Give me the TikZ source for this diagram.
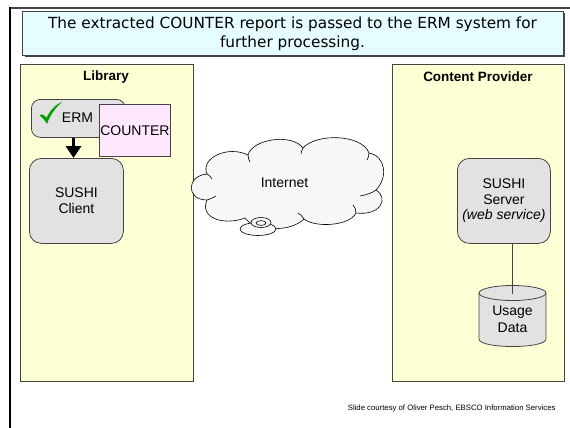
\documentclass[tikz,border=0pt]{standalone}
\usepackage{fontspec}
\setmainfont{Liberation Sans}
\newfontfamily\verdanafont{DejaVu Sans}
\usetikzlibrary{arrows.meta}
\definecolor{titlefill}{HTML}{E6FDFF}
\definecolor{yellowfill}{HTML}{FFFFD6}
\definecolor{grayfill}{HTML}{E2E2E2}
\definecolor{pinkfill}{HTML}{FFE8FF}
\definecolor{cloudfill}{HTML}{F7F7F7}
\definecolor{edgegray}{HTML}{444444}
\definecolor{checkgreen}{HTML}{00A000}
\tikzset{
  panel/.style={draw=edgegray, line width=0.8pt, fill=yellowfill, anchor=north west, inner sep=0pt},
  roundbox/.style={draw=edgegray, line width=0.8pt, fill=grayfill, rounded corners=12pt, anchor=north west, align=center, font=\fontsize{14}{15.5}\selectfont, inner sep=0pt},
  panetitle/.style={font=\bfseries\fontsize{13.5}{15}\selectfont},
  bodytext/.style={font=\fontsize{14}{16}\selectfont},
  cloudline/.style={black, line width=0.6pt},
}
\begin{document}
\begin{tikzpicture}[x=1pt,y=-1pt]
\useasboundingbox (0,0) rectangle (570,428);
% frame lines
\draw[edgegray, line width=1.6pt] (10,8) -- (570,8);
\draw[black, line width=2.2pt] (10,7) -- (10,428);
% title
\fill[edgegray] (24.5,13.5) rectangle (565,57.5);
\node[draw=edgegray, line width=0.8pt, fill=titlefill, anchor=north west, minimum width=541pt, minimum height=44pt, inner sep=0pt] (title) at (22,11) {};
\node[align=center, font=\verdanafont\fontsize{15.3}{18.8}\selectfont] (titletext) at (292.5,34) {The extracted COUNTER report is passed to the ERM system for\\further processing.};
% panels
\node[panel, minimum width=173pt, minimum height=317pt] (lib) at (20,64) {};
\node[panetitle] (libtitle) at (106,77) {Library};
\node[panel, minimum width=172pt, minimum height=317pt] (cp) at (392,64) {};
\node[panetitle] (cptitle) at (478,77) {Content Provider};
% ERM
\node[roundbox, rounded corners=9pt, minimum width=94pt, minimum height=38pt] (erm) at (31,99) {};
\node[bodytext] (ermtext) at (77.5,117.5) {ERM};
\fill[checkgreen] (39.5,115) .. controls (43,113.5) and (45,115.5) .. (46.5,118)
  .. controls (50,110) and (56,104.5) .. (62.5,101.5)
  .. controls (56,107) and (50,115) .. (47,124)
  .. controls (45,120.5) and (42.5,117.5) .. (39.5,115) -- cycle;
\node[draw=edgegray, line width=0.8pt, fill=pinkfill, anchor=north west, minimum width=71pt, minimum height=52pt, inner sep=0pt, bodytext] (counter) at (99,104) {COUNTER};
% SUSHI client
\node[roundbox, minimum width=94pt, minimum height=85pt] (client) at (29,158) {SUSHI\\Client};
\draw[black, line width=3.2pt, -{Triangle[width=15pt,length=12pt]}] (erm.south -| 73.5,0) -- (client.north -| 73.5,0);
% cloud
\fill[cloudfill] (207,174)
  .. controls (200,158) and (228,145) .. (248,155)
  .. controls (252,139) and (292,133) .. (303,148)
  .. controls (316,133) and (362,134) .. (369,153)
  .. controls (386,156) and (388,178) .. (376,190)
  .. controls (389,198) and (381,216) .. (356,213)
  .. controls (350,226) and (315,228) .. (304,219)
  .. controls (290,233) and (254,231) .. (245,218)
  .. controls (224,226) and (199,218) .. (207,200)
  .. controls (186,200) and (186,176) .. (207,174) -- cycle;
\draw[cloudline] (207,174)
  .. controls (200,158) and (228,145) .. (248,155)
  .. controls (252,139) and (292,133) .. (303,148)
  .. controls (316,133) and (362,134) .. (369,153)
  .. controls (386,156) and (388,178) .. (376,190)
  .. controls (389,198) and (381,216) .. (356,213)
  .. controls (350,226) and (315,228) .. (304,219)
  .. controls (290,233) and (254,231) .. (245,218)
  .. controls (224,226) and (199,218) .. (207,200)
  .. controls (186,200) and (186,176) .. (207,174) -- cycle;
% cloud creases
\draw[cloudline] (207,174) .. controls (209,175) and (211,177) .. (212,179);
\draw[cloudline] (248,155) .. controls (248,158) and (249,160) .. (250,162);
\draw[cloudline] (303,148) .. controls (302,150) and (301,152) .. (301,154);
\draw[cloudline] (369,153) .. controls (369,156) and (368,158) .. (367,160);
\draw[cloudline] (376,190) .. controls (372,193) and (366,195) .. (360,196);
\draw[cloudline] (356,213) .. controls (356,210) and (355,207) .. (353,205);
\draw[cloudline] (304,219) .. controls (302,216) and (300,214) .. (298,213);
\draw[cloudline] (207,200) .. controls (210,199) and (213,198) .. (216,196);
\node[bodytext] (cloud) at (284.5,183) {Internet};
\draw[cloudline, fill=cloudfill] (258,229) ellipse [x radius=18pt, y radius=6.5pt];
\draw[cloudline, fill=cloudfill] (261,222.5) ellipse [x radius=10pt, y radius=5pt];
\draw[cloudline] (261,223) ellipse [x radius=5pt, y radius=2.4pt];
% SUSHI server
\node[roundbox, minimum width=93pt, minimum height=85pt] (server) at (457,158) {SUSHI\\Server\\\textit{(web service)}};
% cylinder
\fill[grayfill] (479,293) rectangle (546,339);
\fill[grayfill] (512.5,339) ellipse [x radius=33.5pt, y radius=7.5pt];
\draw[edgegray, line width=0.8pt] (479,293) -- (479,339) .. controls (479,349) and (546,349) .. (546,339) -- (546,293);
\draw[edgegray, line width=0.8pt, fill=grayfill] (512.5,293) ellipse [x radius=33.5pt, y radius=7.5pt];
\node[align=center, font=\fontsize{14}{17}\selectfont, inner sep=0pt] (data) at (512.5,319.5) {Usage\\Data};
\coordinate (datatop) at (512.5,293.5);
\draw[edgegray, line width=0.8pt] (server.south -| datatop) -- (datatop);
% footer
\node[anchor=east, font=\fontsize{7.75}{9}\selectfont] (footer) at (559,408) {Slide courtesy of Oliver Pesch, EBSCO Information Services};
\end{tikzpicture}
\end{document}
